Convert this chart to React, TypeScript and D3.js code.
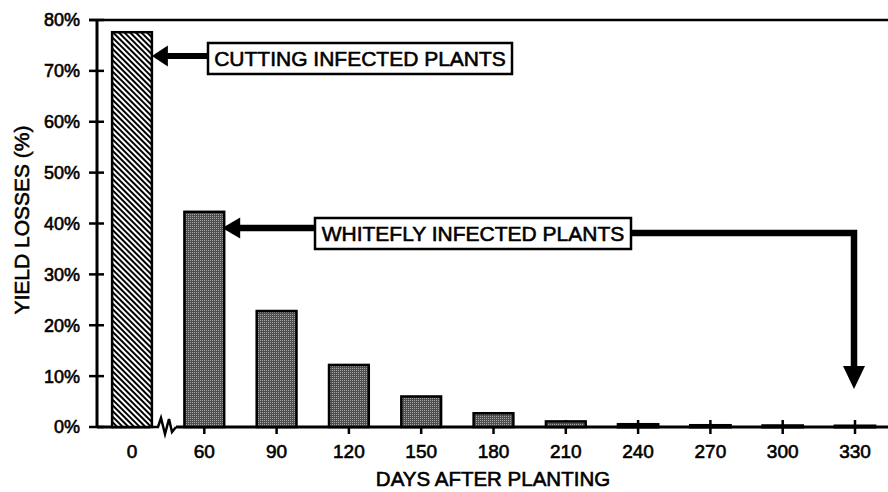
import React from "react";
import * as d3 from "d3";

const categories = ["0", "60", "90", "120", "150", "180", "210", "240", "270", "300", "330"];
const losses = [77.6, 42.3, 22.8, 12.2, 6.0, 2.7, 1.1, 0.5, 0.3, 0.25, 0.2];
const yTicks = [0, 10, 20, 30, 40, 50, 60, 70, 80];
const xTitle = "DAYS AFTER PLANTING";
const yTitle = "YIELD LOSSES (%)";
const cuttingLabel = "CUTTING INFECTED PLANTS";
const whiteflyLabel = "WHITEFLY INFECTED PLANTS";

const W = 888;
const H = 492;
const FONT = "Arial, 'Liberation Sans', Helvetica, sans-serif";

export default function App() {
  const x = d3
    .scaleBand<string>()
    .domain(categories)
    .range([95.85, 891.15])
    .paddingInner(0.45)
    .paddingOuter(0.225);
  const y = d3.scaleLinear().domain([0, 80]).range([427, 20]);
  const axisX = 97;
  const baseY = y(0);
  const bw = x.bandwidth();
  const cx = (c: string) => (x(c) as number) + bw / 2;

  const txt = { fontFamily: FONT, fill: "#000", stroke: "#000", strokeWidth: 0.6 } as const;

  const b0Right = (x("0") as number) + bw;
  const b60Right = (x("60") as number) + bw;
  const a1y = 56;
  const a2y = 228;
  const a2ry = 233;
  const vx = cx("330");

  const zig = d3.line()([
    [150, baseY],
    [158, baseY],
    [161, baseY - 9],
    [165, baseY + 7],
    [169, baseY - 8],
    [172, baseY + 5],
    [176, baseY],
  ]) as string;

  return (
    <div style={{ position: "absolute", left: 0, top: 0 }}>
      <svg width={W} height={H} style={{ display: "block", background: "#fff" }}>
        <defs>
          <pattern id="hatch" patternUnits="userSpaceOnUse" width={4} height={4} patternTransform="rotate(-45)">
            <rect width={4} height={4} fill="#fff" />
            <rect x={0} y={0} width={2} height={4} fill="#000" />
          </pattern>
          <pattern id="dots" patternUnits="userSpaceOnUse" width={2} height={2}>
            <rect width={2} height={2} fill="#4e4e4e" />
            <rect x={0} y={0} width={1} height={1} fill="#a4a4a4" />
          </pattern>
        </defs>

        <line x1={89} x2={W} y1={y(80)} y2={y(80)} stroke="#000" strokeWidth={2.5} />

        <line x1={axisX} x2={axisX} y1={y(80)} y2={baseY} stroke="#000" strokeWidth={3} />
        {yTicks.map((t) => (
          <g key={t}>
            <line x1={89} x2={104} y1={y(t)} y2={y(t)} stroke="#000" strokeWidth={2.5} />
            <text x={80} y={y(t)} dy="0.36em" textAnchor="end" fontSize={18} {...txt}>
              {t}%
            </text>
          </g>
        ))}

        <line x1={axisX} x2={150} y1={baseY} y2={baseY} stroke="#000" strokeWidth={3} />
        <path d={zig} fill="none" stroke="#000" strokeWidth={2.5} strokeLinejoin="miter" />
        <line x1={176} x2={W} y1={baseY} y2={baseY} stroke="#000" strokeWidth={3} />
        {categories.slice(1).map((c) => (
          <line key={c} x1={cx(c)} x2={cx(c)} y1={baseY - 7} y2={baseY + 7} stroke="#000" strokeWidth={2.5} />
        ))}

        {categories.map((c, i) => {
          const top = y(losses[i]);
          return (
            <rect
              key={c}
              x={x(c)}
              y={top}
              width={bw}
              height={Math.max(baseY - top, 0.5)}
              fill={i === 0 ? "url(#hatch)" : "url(#dots)"}
              stroke="#000"
              strokeWidth={i >= 7 ? 3 : 2.5}
            />
          );
        })}

        {categories.map((c) => (
          <text key={c} x={cx(c)} y={458} textAnchor="middle" fontSize={19} {...txt}>
            {c}
          </text>
        ))}

        <text x={493} y={486} textAnchor="middle" fontSize={20.5} {...txt}>
          {xTitle}
        </text>
        <text transform={`translate(29,220) rotate(-90)`} textAnchor="middle" fontSize={21} {...txt}>
          {yTitle}
        </text>

        <line x1={b0Right + 12} x2={208} y1={a1y} y2={a1y} stroke="#000" strokeWidth={6} />
        <path
          d={`M${b0Right},${a1y} L${b0Right + 16},${a1y - 10.5} L${b0Right + 16},${a1y + 10.5} Z`}
          fill="#000"
        />
        <rect x={208} y={43} width={304} height={31} fill="#fff" stroke="#000" strokeWidth={2.5} />
        <text x={360} y={58.5} dy="0.36em" textAnchor="middle" fontSize={21} {...txt}>
          {cuttingLabel}
        </text>

        <line x1={b60Right + 12} x2={315} y1={a2y} y2={a2y} stroke="#000" strokeWidth={6.5} />
        <path
          d={`M${b60Right - 2},${a2y} L${b60Right + 16},${a2y - 10.5} L${b60Right + 16},${a2y + 10.5} Z`}
          fill="#000"
        />
        <polyline
          points={`631,${a2ry} ${vx - 1},${a2ry} ${vx - 1},372`}
          fill="none"
          stroke="#000"
          strokeWidth={6.5}
          strokeLinejoin="miter"
        />
        <path d={`M${vx - 12},366 L${vx + 10},366 L${vx - 1},389 Z`} fill="#000" />
        <rect x={315} y={218} width={316} height={31} fill="#fff" stroke="#000" strokeWidth={2.5} />
        <text x={473} y={233.5} dy="0.36em" textAnchor="middle" fontSize={21} {...txt}>
          {whiteflyLabel}
        </text>
      </svg>
    </div>
  );
}
